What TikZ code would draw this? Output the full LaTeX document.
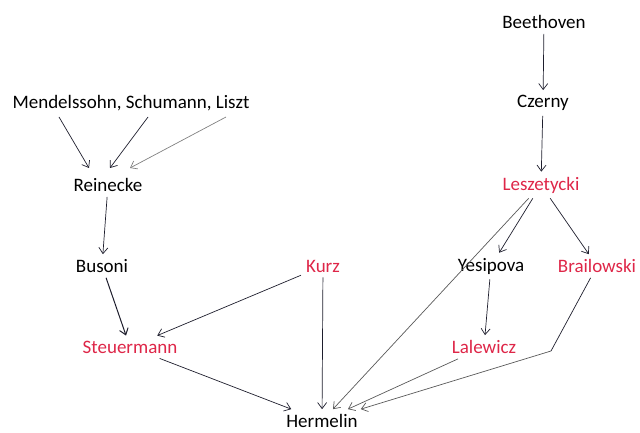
\documentclass[tikz,border=0pt]{standalone}
\usepackage{fontspec}
\setmainfont{Carlito}
\usetikzlibrary{arrows.meta}
\definecolor{pupilred}{RGB}{222,38,72}
\definecolor{lineink}{RGB}{30,30,45}
\begin{document}
\begin{tikzpicture}[x=1pt,y=-1pt]
  \useasboundingbox (0,0) rectangle (640,433);
  \begin{scope}[every node/.style={font=\fontsize{19}{22}\selectfont,inner sep=5pt}]
  \node (beethoven) at (544,22) {Beethoven};
  \node (czerny) at (543,103) {Czerny};
  \node[text=pupilred] (leszetycki) at (541,185) {Leszetycki};
  \node (mendelssohn) at (131,103) {Mendelssohn, Schumann, Liszt};
  \node (reinecke) at (108,185) {Reinecke};
  \node (busoni) at (102,266) {Busoni};
  \node[text=pupilred] (kurz) at (323,266) {Kurz};
  \node (yesipova) at (491,266) {Yesipova};
  \node[text=pupilred] (brailowski) at (597,266) {Brailowski};
  \node[text=pupilred] (steuermann) at (130,347) {Steuermann};
  \node[text=pupilred] (lalewicz) at (484,347) {Lalewicz};
  \node (hermelin) at (322,421) {Hermelin};
  \end{scope}
  \coordinate (mendA) at (59,117);
  \coordinate (mendB) at (148,117);
  \coordinate (mendC) at (226,117);
  \coordinate (reinA) at (89,168);
  \coordinate (reinB) at (110,168);
  \coordinate (reinC) at (130,168);
  \coordinate (bend) at (551,351);
  \begin{scope}[every edge/.style={draw=lineink,line width=0.7pt,-{Straight Barb[length=6pt,width=9pt]}}]
  \path (beethoven) edge (czerny);
  \path (czerny) edge (leszetycki);
  \path (mendA) edge (reinA);
  \path (mendB) edge (reinB);
  \path (mendC) edge[draw=gray] (reinC);
  \path (reinecke) edge (busoni);
  \path (busoni) edge[line width=1pt] (steuermann);
  \path (kurz) edge (steuermann);
  \path (kurz) edge (hermelin);
  \path (steuermann) edge (hermelin);
  \path (leszetycki) edge[draw=gray!70!black] (hermelin);
  \path (leszetycki) edge (yesipova);
  \path (leszetycki) edge (brailowski);
  \path (yesipova) edge (lalewicz);
  \path (lalewicz) edge[draw=gray!70!black] (hermelin);
  \path (brailowski) edge[-] (bend);
  \path (bend) edge[draw=gray!70!black] (hermelin);
  \end{scope}
\end{tikzpicture}
\end{document}
